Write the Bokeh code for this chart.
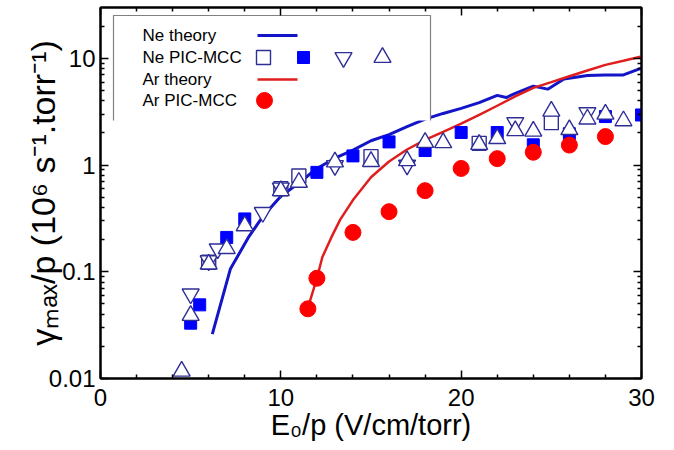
import math
from bokeh.plotting import figure
from bokeh.models import (Range1d, LinearAxis, LogAxis, FixedTicker,
                          CustomJSTickFormatter, Label)
from bokeh.embed import file_html
from bokeh.resources import INLINE

# ---------------- data ----------------
ne_theory_x = [6.2, 7.2, 8.2, 9.0, 10.0, 11.0, 12.0, 13.0, 14.0, 15.0, 16.0, 17.0,
               18.0, 19.0, 20.0, 21.0, 22.0, 22.5, 23.0, 24.0, 24.8, 25.7, 27.0,
               28.0, 29.0, 30.0]
ne_theory_y = [0.026, 0.106, 0.21, 0.33, 0.51, 0.68, 0.93, 1.16, 1.38, 1.69, 1.93, 2.29,
               2.7, 3.05, 3.4, 3.85, 4.5, 4.3, 4.7, 5.5, 5.15, 6.4, 6.9,
               7.0, 7.0, 8.1]

ar_theory_x = [11.5, 12.0, 12.3, 12.8, 13.3, 14.0, 15.0, 16.0, 17.0, 18.0, 19.0, 20.0,
               21.0, 22.0, 23.0, 24.0, 25.0, 26.0, 27.0, 28.0, 29.0, 30.0]
ar_theory_y = [0.046, 0.087, 0.137, 0.21, 0.31, 0.47, 0.77, 1.08, 1.4, 1.72, 2.05, 2.45,
               2.95, 3.6, 4.4, 5.3, 6.0, 6.8, 7.7, 8.7, 9.5, 10.4]

ne_open_sq_x = [6, 10, 11, 15, 21, 25]
ne_open_sq_y = [0.123, 0.6, 0.79, 1.2, 1.6, 2.5]

ne_fill_sq_x = [5, 5.5, 7, 8, 12, 14, 16, 18, 20, 22, 24, 26, 28, 30]
ne_fill_sq_y = [0.033, 0.049, 0.21, 0.313, 0.855, 1.22, 1.65, 1.37, 2.02, 2.02,
                1.55, 1.97, 2.85, 2.95]

ne_down_x = [5, 6, 6.5, 9, 10, 13, 17, 23, 27]
ne_down_y = [0.062, 0.127, 0.164, 0.36, 0.61, 0.99, 1.0, 2.5, 3.1]

ne_up_x = [4.5, 5, 6, 7, 8, 10, 11, 13, 15, 17, 18, 19, 21, 22, 23, 24, 25, 26,
           27, 28, 29]
ne_up_y = [0.0117, 0.039, 0.118, 0.165, 0.27, 0.575, 0.69, 1.07, 1.08, 1.1, 1.63,
           1.62, 1.56, 1.77, 2.1, 2.08, 3.2, 2.15, 2.7, 3.0, 2.6]

ar_pic_x = [11.5, 12, 14, 16, 18, 20, 22, 24, 26, 28]
ar_pic_y = [0.045, 0.087, 0.234, 0.366, 0.576, 0.93, 1.15, 1.32, 1.54, 1.85]

x_major = [0, 10, 20, 30]
x_minor = [2, 4, 6, 8, 12, 14, 16, 18, 22, 24, 26, 28]
y_major = [0.01, 0.1, 1, 10]
y_minor = [0.02, 0.03, 0.04, 0.05, 0.06, 0.07, 0.08, 0.09,
           0.2, 0.3, 0.4, 0.5, 0.6, 0.7, 0.8, 0.9,
           2, 3, 4, 5, 6, 7, 8, 9, 20]

legend_labels = ["Ne theory", "Ne PIC-MCC", "Ar theory", "Ar PIC-MCC"]
x_title = "E\u2080/p (V/cm/torr)"
y_title = "\u03b3\u2098\u2090\u2093/p (10\u2076 s\u207b\u00b9.torr\u207b\u00b9)"

# ---------------- layout ----------------
W, H = 674, 450
FL, FR, FT, FB = 100, 641, 7, 378
XMIN, XMAX = 0.0, 30.0
YMIN, YMAX = 0.01, 30.0

BLUE_LINE = "#1414C8"
BLUE_FILL = "#0000FF"
NAVY = "#2E2E96"
RED = "#FF0000"
RED_LINE = "#E01E1E"
FONT = "Liberation Sans"


def dx(px):
    return XMIN + (px - FL) / (FR - FL) * (XMAX - XMIN)


def dy(py):
    lo, hi = math.log10(YMIN), math.log10(YMAX)
    return 10 ** (lo + (FB - py) / (FB - FT) * (hi - lo))


p = figure(width=W, height=H, output_backend="svg", toolbar_location=None,
           x_range=Range1d(XMIN, XMAX), y_range=Range1d(YMIN, YMAX),
           y_axis_type="log",
           min_border_left=FL, min_border_right=W - FR,
           min_border_top=FT, min_border_bottom=H - FB)
p.grid.visible = False
p.outline_line_color = "black"
p.outline_line_width = 2
p.background_fill_color = "white"
p.border_fill_color = "white"

xt = FixedTicker(ticks=x_major, minor_ticks=x_minor)
yt = FixedTicker(ticks=y_major, minor_ticks=y_minor)
fmt = CustomJSTickFormatter(code="return String(tick);")
blank = CustomJSTickFormatter(code="return '';")


def style_axis(ax, show):
    ax.axis_line_color = "black"
    ax.axis_line_width = 2
    ax.major_tick_in = 8
    ax.major_tick_out = 0
    ax.minor_tick_in = 4
    ax.minor_tick_out = 0
    ax.major_tick_line_width = 1.5
    ax.minor_tick_line_width = 1.5
    ax.major_tick_line_color = "black"
    ax.minor_tick_line_color = "black"
    if show:
        ax.major_label_text_font = FONT
        ax.major_label_text_font_size = "24px"
        ax.major_label_text_color = "black"
    else:
        ax.major_label_text_font_size = "1px"
        ax.major_label_standoff = 0


xa = p.xaxis[0]
ya = p.yaxis[0]
xa.ticker = xt
ya.ticker = yt
xa.formatter = fmt
ya.formatter = fmt
style_axis(xa, True)
style_axis(ya, True)
xa.major_label_standoff = 10
ya.major_label_standoff = 5

xa.axis_label = x_title
xa.axis_label_text_font = FONT
xa.axis_label_text_font_size = "29px"
xa.axis_label_text_font_style = "normal"
xa.axis_label_text_color = "black"
xa.axis_label_standoff = 0

ya.axis_label = y_title
ya.axis_label_text_font = FONT
ya.axis_label_text_font_size = "34px"
ya.axis_label_text_font_style = "normal"
ya.axis_label_text_color = "black"
ya.axis_label_standoff = -16

top_ax = LinearAxis(ticker=xt, formatter=blank)
style_axis(top_ax, False)
p.add_layout(top_ax, "above")
right_ax = LogAxis(ticker=yt, formatter=blank)
style_axis(right_ax, False)
p.add_layout(right_ax, "right")

# ---------------- data renderers ----------------
p.line(ne_theory_x, ne_theory_y, line_color=BLUE_LINE, line_width=3)
p.line(ar_theory_x, ar_theory_y, line_color=RED_LINE, line_width=2.5)
p.scatter(ne_fill_sq_x, ne_fill_sq_y, marker="square", size=12,
          fill_color=BLUE_FILL, line_color=BLUE_FILL)
p.scatter(ne_open_sq_x, ne_open_sq_y, marker="square", size=14,
          fill_color="white", line_color=NAVY, line_width=1.4)
p.scatter(ne_down_x, ne_down_y, marker="inverted_triangle", size=17,
          fill_color="white", line_color=NAVY, line_width=1.4)
p.scatter(ne_up_x, ne_up_y, marker="triangle", size=17,
          fill_color="white", line_color=NAVY, line_width=1.4)
p.scatter(ar_pic_x, ar_pic_y, marker="circle", size=16,
          fill_color=RED, line_color=RED)

# ---------------- legend (drawn over the data) ----------------
LB_L, LB_T, LB_R, LB_B = 113, 15, 430, 120
p.quad(left=dx(LB_L), right=dx(LB_R), top=dy(LB_T), bottom=dy(LB_B),
       fill_color="white", line_color=None)
p.line([dx(LB_L), dx(LB_L), dx(LB_R), dx(LB_R)],
       [dy(LB_B), dy(LB_T), dy(LB_T), dy(LB_B)],
       line_color="#808080", line_width=1.2)

rows = [35, 57, 79, 100]
p.line([dx(257), dx(297)], [dy(rows[0]), dy(rows[0])], line_color=BLUE_LINE, line_width=3)
p.scatter([dx(263)], [dy(rows[1])], marker="square", size=14,
          fill_color="white", line_color=NAVY, line_width=1.4)
p.scatter([dx(303)], [dy(rows[1])], marker="square", size=12,
          fill_color=BLUE_FILL, line_color=BLUE_FILL)
p.scatter([dx(343)], [dy(rows[1])], marker="inverted_triangle", size=17,
          fill_color="white", line_color=NAVY, line_width=1.4)
p.scatter([dx(382)], [dy(rows[1])], marker="triangle", size=17,
          fill_color="white", line_color=NAVY, line_width=1.4)
p.line([dx(257), dx(297)], [dy(rows[2]), dy(rows[2])], line_color=RED_LINE, line_width=2.5)
p.scatter([dx(264)], [dy(rows[3])], marker="circle", size=16,
          fill_color=RED, line_color=RED)

for lab, ry in zip(legend_labels, rows):
    p.add_layout(Label(x=XMIN, y=YMAX, x_offset=142 - FL, y_offset=FT - ry,
                       text=lab, text_font=FONT, text_font_size="17px",
                       text_color="black", text_align="left",
                       text_baseline="middle"))

open("out.html", "w").write(file_html(p, INLINE))
